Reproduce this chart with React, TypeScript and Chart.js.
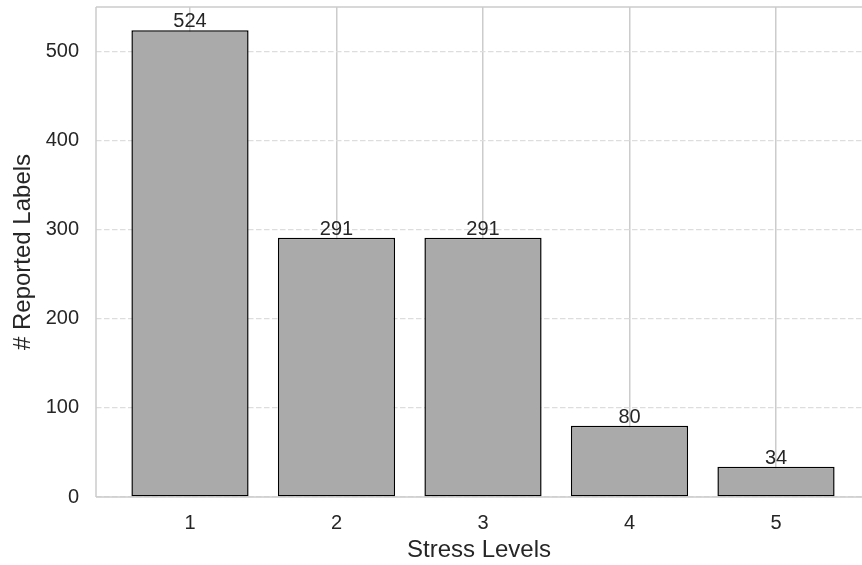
import React, { useEffect, useRef } from "react";
import { Chart, registerables } from "chart.js";

Chart.register(...registerables);

const categories = ["1", "2", "3", "4", "5"];
const counts = [524, 291, 291, 80, 34];
const yTicks = [0, 100, 200, 300, 400, 500];
const xTitle = "Stress Levels";
const yTitle = "# Reported Labels";

const TEXT = "#262626";
const SPINE = "#cccccc";
const FONT = "'Liberation Sans', Arial, Helvetica, sans-serif";

const overlay = {
  id: "overlay",
  afterDatasetsDraw(chart: any) {
    const { ctx, chartArea } = chart;
    const { left, right, top, bottom } = chartArea;
    ctx.save();
    // spines
    ctx.strokeStyle = SPINE;
    ctx.lineWidth = 1.5;
    ctx.setLineDash([]);
    ctx.beginPath();
    ctx.moveTo(left, top);
    ctx.lineTo(right, top);
    ctx.moveTo(left, top);
    ctx.lineTo(left, bottom);
    ctx.moveTo(left, bottom);
    ctx.lineTo(right, bottom);
    ctx.stroke();
    // value labels
    const meta = chart.getDatasetMeta(0);
    ctx.fillStyle = TEXT;
    ctx.font = `20px ${FONT}`;
    ctx.textAlign = "center";
    ctx.textBaseline = "alphabetic";
    meta.data.forEach((bar: any, i: number) => {
      ctx.fillText(String(counts[i]), bar.x, bar.y - 3);
    });
    ctx.restore();
  },
};

export default function App() {
  const ref = useRef<HTMLCanvasElement | null>(null);
  useEffect(() => {
    if (!ref.current) return;
    Chart.defaults.font.family = FONT;
    const chart = new Chart(ref.current, {
      type: "bar",
      data: {
        datasets: [
          {
            data: counts.map((v, i) => ({ x: i, y: v })),
            backgroundColor: "#aaaaaa",
            borderColor: "#000000",
            borderWidth: 1.5,
            borderSkipped: false,
            categoryPercentage: 1,
            barPercentage: 0.8,
          },
        ],
      },
      options: {
        animation: false,
        responsive: true,
        maintainAspectRatio: false,
        layout: { padding: { top: 7, right: 0, left: 0, bottom: 0 } },
        plugins: {
          legend: { display: false },
          tooltip: { enabled: false },
        },
        scales: {
          x: {
            type: "linear",
            offset: false,
            min: -0.6416,
            max: 4.587,
            afterBuildTicks: (scale: any) => {
              scale.ticks = categories.map((_, i) => ({ value: i }));
            },
            afterFit: (scale: any) => {
              scale.height = 68;
              scale.paddingLeft = 0;
              scale.paddingRight = 0;
            },
            ticks: {
              callback: (v: any) => categories[Math.round(Number(v))] ?? "",
              color: TEXT,
              font: { size: 20 },
              padding: 14,
              maxRotation: 0,
              autoSkip: false,
            },
            grid: {
              offset: false,
              color: SPINE,
              lineWidth: 1.5,
              drawTicks: false,
            },
            border: { display: false },
            title: {
              display: true,
              text: xTitle,
              color: TEXT,
              font: { size: 24 },
              padding: { top: 0, bottom: 0 },
            },
          },
          y: {
            type: "linear",
            min: 0,
            max: 550.2,
            afterBuildTicks: (scale: any) => {
              scale.ticks = yTicks.map((v) => ({ value: v }));
            },
            afterFit: (scale: any) => {
              scale.width = 96;
              scale.paddingTop = 0;
              scale.paddingBottom = 0;
            },
            ticks: {
              color: TEXT,
              font: { size: 20 },
              padding: 17,
            },
            grid: {
              color: "#dddddd",
              lineWidth: 1.2,
              drawTicks: false,
            },
            border: { display: false, dash: [5.5, 2.5] },
            title: {
              display: true,
              text: yTitle,
              color: TEXT,
              font: { size: 24 },
              padding: { top: 8.6, bottom: 0 },
            },
          },
        },
      },
      plugins: [overlay],
    } as any);
    return () => chart.destroy();
  }, []);
  return (
    <div
      style={{
        position: "fixed",
        left: 0,
        top: 0,
        width: 862,
        height: 565,
        background: "#ffffff",
      }}
    >
      <canvas ref={ref} />
    </div>
  );
}
